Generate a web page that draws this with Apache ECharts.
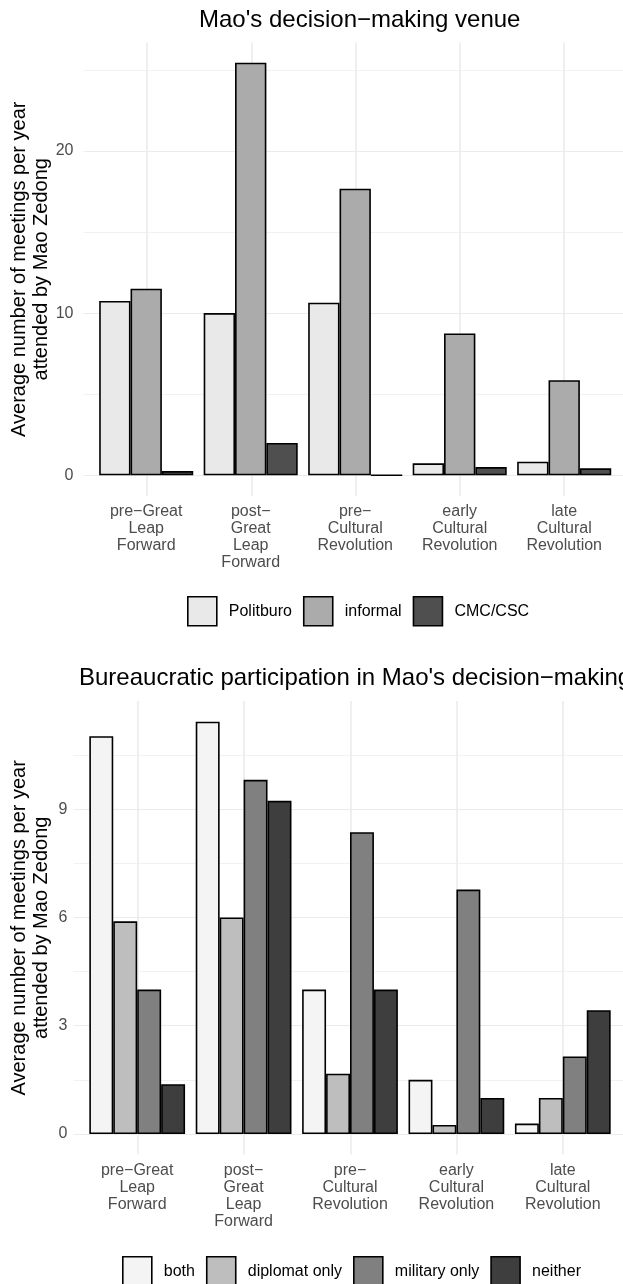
<!DOCTYPE html>
<html>
<head>
<meta charset="utf-8">
<script src="https://cdn.jsdelivr.net/npm/echarts@6/dist/echarts.min.js"></script>
<style>
html,body{margin:0;padding:0;background:#fff;}
#chart{width:623px;height:1284px;}
</style>
</head>
<body>
<div id="chart"></div>
<script>
// ---- data ----
var periods = ['pre\u2212Great\nLeap\nForward', 'post\u2212\nGreat\nLeap\nForward', 'pre\u2212\nCultural\nRevolution', 'early\nCultural\nRevolution', 'late\nCultural\nRevolution'];

var venueNames = ['Politburo', 'informal', 'CMC/CSC'];
var politburo = [10.75, 10.0, 10.64, 0.74, 0.84];
var informal = [11.5, 25.44, 17.67, 8.75, 5.86];
var cmcCsc = [0.26, 1.99, 0, 0.51, 0.43];

var partNames = ['both', 'diplomat only', 'military only', 'neither'];
var both = [11.02, 11.42, 4.0, 1.5, 0.29];
var diplomatOnly = [5.89, 6.0, 1.67, 0.25, 1.0];
var militaryOnly = [4.0, 9.81, 8.36, 6.77, 2.15];
var neither = [1.38, 9.23, 4.0, 1.0, 3.43];

var venueTicks = [0, 10, 20];
var partTicks = [0, 3, 6, 9];

var titleTop = "Mao's decision\u2212making venue";
var titleBottom = "Bureaucratic participation in Mao's decision\u2212making";
var yTitle = 'Average number of meetings per year\nattended by Mao Zedong';

// ---- styles ----
var FONT = "'Liberation Sans', Arial, Helvetica, sans-serif";
var venueColors = ['#E9E9E9', '#ABABAB', '#4F4F4F'];
var partColors = ['#F4F4F4', '#BEBEBE', '#808080', '#3E3E3E'];
var GRID = '#EBEBEB';
var GRID_MINOR = '#F2F2F2';

var chart = echarts.init(document.getElementById('chart'), null, {renderer: 'canvas'});

function hiddenValueAxis(idx, min, max) {
  return {type: 'value', gridIndex: idx, min: min, max: max, show: false};
}

function catLabelAxis(idx) {
  return {
    type: 'category', gridIndex: idx, data: periods, boundaryGap: true,
    axisLine: {show: false}, axisTick: {show: false}, splitLine: {show: false},
    axisLabel: {interval: 0, margin: 28, color: '#4D4D4D', fontSize: 16, lineHeight: 17,
      fontFamily: FONT, verticalAlign: 'top'}
  };
}
function catGridAxis(idx) {
  return {
    type: 'category', gridIndex: idx, data: periods, boundaryGap: false,
    axisLine: {show: false}, axisTick: {show: false}, axisLabel: {show: false},
    splitLine: {show: true, interval: 0, lineStyle: {color: GRID, width: 1.6}}
  };
}
function gridYAxis(idx, max, interval, ticks, margin) {
  return {
    type: 'value', gridIndex: idx, min: 0, max: max, interval: interval,
    axisLine: {show: false}, axisTick: {show: false},
    splitLine: {show: true, lineStyle: {color: [GRID, GRID_MINOR], width: 1.2}},
    axisLabel: {
      margin: margin, color: '#4D4D4D', fontSize: 16, fontFamily: FONT,
      formatter: function (v) {
        for (var i = 0; i < ticks.length; i++) { if (Math.abs(ticks[i] - v) < 1e-6) return String(ticks[i]); }
        return '';
      }
    }
  };
}
function nameYAxis(idx, gap) {
  return {
    type: 'value', gridIndex: idx, min: 0, max: 1,
    axisLine: {show: false}, axisTick: {show: false}, axisLabel: {show: false}, splitLine: {show: false},
    name: yTitle, nameLocation: 'middle', nameGap: gap,
    nameTextStyle: {color: '#000', fontSize: 20, lineHeight: 22, fontFamily: FONT, align: 'center'}
  };
}

function barSeries(name, data, color, xi, yi) {
  return {
    type: 'bar', name: name, data: data, xAxisIndex: xi, yAxisIndex: yi,
    barGap: '0%', barCategoryGap: '10%', clip: false,
    itemStyle: {color: color, borderColor: '#000', borderWidth: 1.6},
    emphasis: {disabled: true}
  };
}

var option = {
  animation: false,
  backgroundColor: '#fff',
  textStyle: {fontFamily: FONT},
  title: [
    {text: titleTop, left: 194, top: 3, padding: 5,
      textStyle: {fontSize: 24, fontWeight: 'normal', color: '#000', fontFamily: FONT}},
    {text: titleBottom, left: 74, top: 661, padding: 5,
      textStyle: {fontSize: 24, fontWeight: 'normal', color: '#000', fontFamily: FONT}}
  ],
  legend: [
    {data: venueNames, left: 187, top: 596, padding: 0, itemWidth: 29, itemHeight: 29, itemGap: 11,
      icon: 'rect', itemStyle: {borderColor: '#000', borderWidth: 1.6},
      textStyle: {fontSize: 16, color: '#000', fontFamily: FONT, padding: [0, 0, 0, 7]}, selectedMode: false},
    {data: partNames, left: 122, top: 1256, padding: 0, itemWidth: 29, itemHeight: 29, itemGap: 11,
      icon: 'rect', itemStyle: {borderColor: '#000', borderWidth: 1.6},
      textStyle: {fontSize: 16, color: '#000', fontFamily: FONT, padding: [0, 0, 0, 7]}, selectedMode: false}
  ],
  grid: [
    // top chart
    {left: 93.95, width: 522.5, top: 69.8, height: 405.5},   // 0 bars
    {left: 83.5, width: 543.5, top: 69.8, height: 405.5},    // 1 horizontal lines + labels
    {left: 146.2, width: 418, top: 42.5, height: 453.5},     // 2 vertical lines + title
    // bottom chart
    {left: 84, width: 532, top: 754.95, height: 379.05},     // 3 bars
    {left: 73.4, width: 553, top: 754.95, height: 379.05},   // 4 horizontal lines + labels
    {left: 137.2, width: 425.6, top: 701, height: 453.6}     // 5 vertical lines + title
  ],
  xAxis: [
    catLabelAxis(0),
    hiddenValueAxis(1, 0, 1),
    catGridAxis(2),
    catLabelAxis(3),
    hiddenValueAxis(4, 0, 1),
    catGridAxis(5)
  ],
  yAxis: [
    hiddenValueAxis(0, 0, 25),
    gridYAxis(1, 25, 5, venueTicks, 10),
    nameYAxis(2, 95),
    hiddenValueAxis(3, 0, 10.5),
    gridYAxis(4, 10.5, 1.5, partTicks, 6),
    nameYAxis(5, 86)
  ],
  series: [
    barSeries(venueNames[0], politburo, venueColors[0], 0, 0),
    barSeries(venueNames[1], informal, venueColors[1], 0, 0),
    barSeries(venueNames[2], cmcCsc, venueColors[2], 0, 0),
    barSeries(partNames[0], both, partColors[0], 3, 3),
    barSeries(partNames[1], diplomatOnly, partColors[1], 3, 3),
    barSeries(partNames[2], militaryOnly, partColors[2], 3, 3),
    barSeries(partNames[3], neither, partColors[3], 3, 3)
  ]
};
chart.setOption(option);
</script>
</body>
</html>
